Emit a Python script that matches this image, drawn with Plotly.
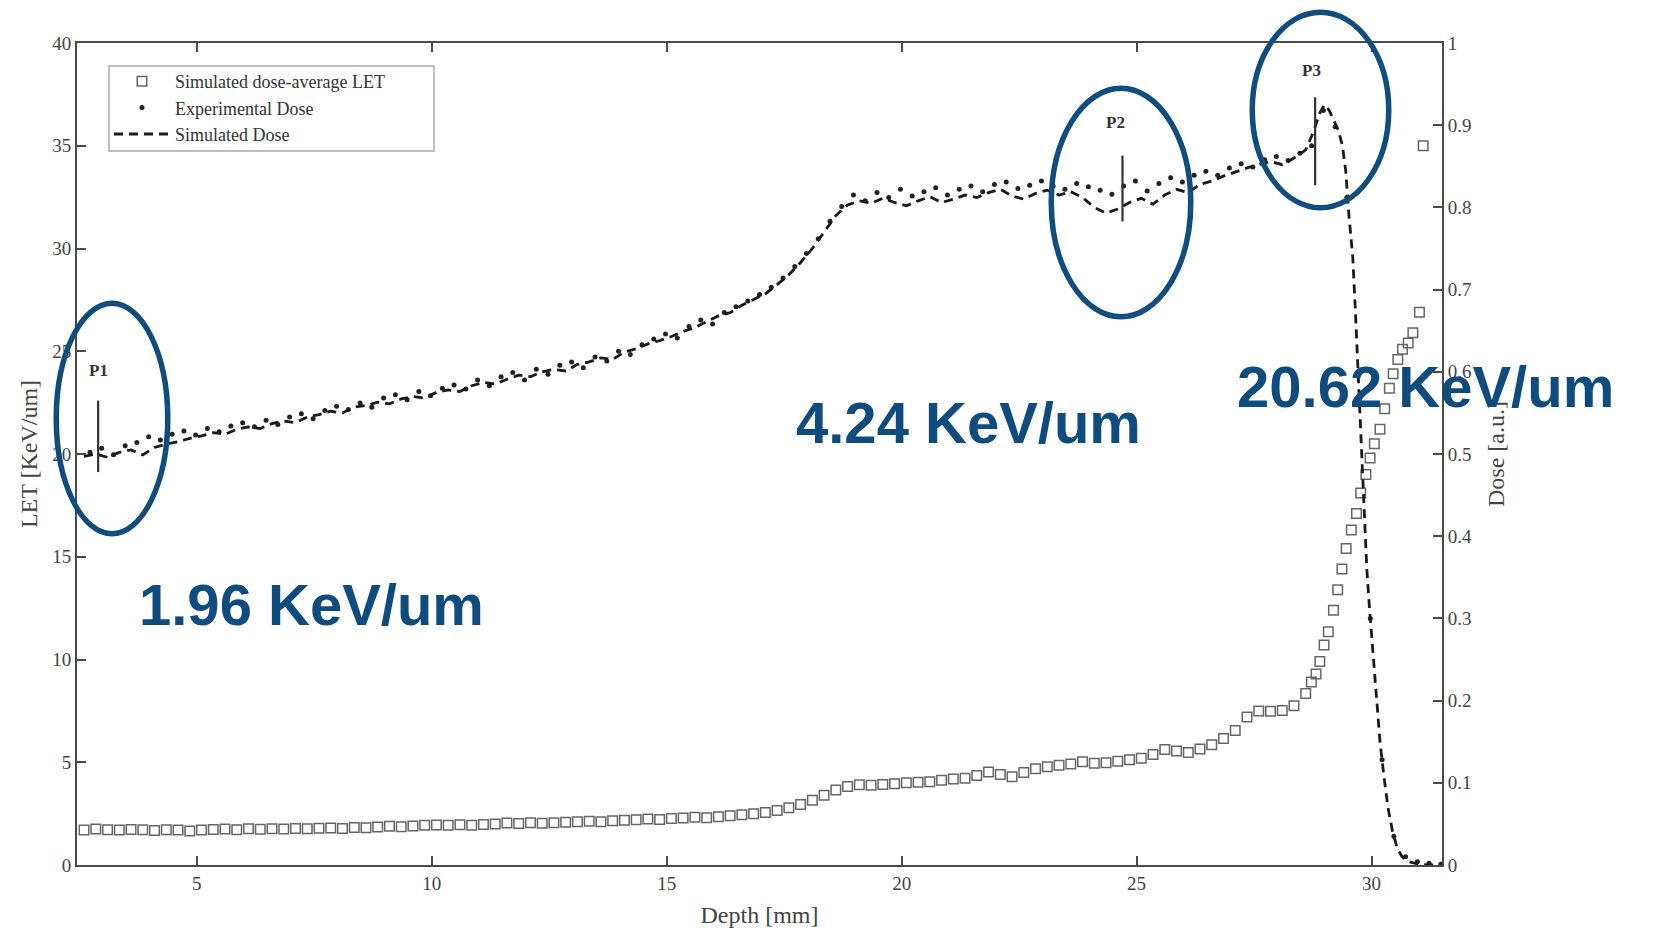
import plotly.graph_objects as go

# ---- data ----
STEP = 0.25  # mm, sampling grid of the regular parts

# simulated dose (dashed), 0.25 mm grid starting at 2.6 mm
sim_dose_start = 2.6
sim_dose = [
    0.497, 0.500, 0.496, 0.502, 0.505, 0.499, 0.508, 0.512, 0.515, 0.519,
    0.522, 0.526, 0.524, 0.530, 0.533, 0.531, 0.537, 0.540, 0.538, 0.545,
    0.548, 0.552, 0.550, 0.557, 0.559, 0.563, 0.561, 0.567, 0.570, 0.568,
    0.575, 0.578, 0.576, 0.583, 0.587, 0.585, 0.591, 0.596, 0.594, 0.600,
    0.603, 0.601, 0.609, 0.612, 0.617, 0.615, 0.624, 0.628, 0.634, 0.638,
    0.643, 0.649, 0.654, 0.661, 0.668, 0.672, 0.681, 0.688, 0.695, 0.706,
    0.718, 0.733, 0.750, 0.770, 0.790, 0.803, 0.808, 0.805, 0.811, 0.806,
    0.802, 0.808, 0.813, 0.806, 0.810, 0.815, 0.812, 0.818, 0.822, 0.814,
    0.810, 0.817, 0.821, 0.815, 0.819, 0.812, 0.800, 0.793, 0.798, 0.806,
    0.811, 0.804, 0.815, 0.822, 0.818, 0.828, 0.832, 0.838, 0.843, 0.848,
    0.852, 0.856, 0.852, 0.860, 0.870,
]
# Bragg peak and distal fall-off of the simulated dose
sim_tail_depth = [28.75, 28.90, 29.00, 29.10, 29.20, 29.30, 29.38, 29.45, 29.52, 29.60,
                  29.66, 29.72, 29.78, 29.84, 29.90, 29.96, 30.02, 30.10, 30.18, 30.26,
                  30.35, 30.45, 30.55, 30.65, 30.80, 31.00, 31.20, 31.45]
sim_tail_dose = [0.890, 0.915, 0.925, 0.918, 0.905, 0.893, 0.875, 0.845, 0.790, 0.740,
                 0.670, 0.590, 0.500, 0.420, 0.360, 0.310, 0.265, 0.205, 0.150, 0.110,
                 0.070, 0.040, 0.020, 0.010, 0.004, 0.001, 0.000, 0.000]

# experimental dose (dots), 0.25 mm grid starting at 2.725 mm
exp_dose_start = 2.725
exp_dose = [
    0.502, 0.507, 0.499, 0.510, 0.514, 0.521, 0.517, 0.524, 0.528, 0.523,
    0.531, 0.527, 0.534, 0.538, 0.533, 0.541, 0.536, 0.545, 0.549, 0.543,
    0.553, 0.558, 0.554, 0.562, 0.557, 0.568, 0.572, 0.566, 0.576, 0.571,
    0.580, 0.584, 0.579, 0.590, 0.583, 0.594, 0.599, 0.590, 0.603, 0.597,
    0.608, 0.612, 0.605, 0.618, 0.613, 0.625, 0.621, 0.633, 0.640, 0.646,
    0.641, 0.655, 0.663, 0.658, 0.672, 0.679, 0.686, 0.694, 0.703, 0.714,
    0.728, 0.744, 0.762, 0.783, 0.801, 0.815, 0.808, 0.818, 0.812, 0.822,
    0.814, 0.819, 0.824, 0.815, 0.822, 0.826, 0.819, 0.828, 0.831, 0.823,
    0.827, 0.832, 0.826, 0.822, 0.829, 0.825, 0.821, 0.816, 0.826, 0.832,
    0.820, 0.829, 0.836, 0.831, 0.839, 0.844, 0.839, 0.848, 0.853, 0.849,
    0.858, 0.862, 0.857, 0.866, 0.875, 0.918, 0.898, 0.812, 0.560, 0.300,
    0.128, 0.035, 0.010, 0.004, 0.002, 0.001,
]

# simulated dose-average LET (squares), 0.25 mm grid starting at 2.6 mm
let_start = 2.6
let_vals = [
    1.70, 1.75, 1.72, 1.70, 1.73, 1.71, 1.68, 1.72, 1.70, 1.66,
    1.70, 1.73, 1.75, 1.72, 1.76, 1.74, 1.77, 1.75, 1.78, 1.76,
    1.79, 1.80, 1.78, 1.83, 1.81, 1.85, 1.88, 1.86, 1.90, 1.93,
    1.95, 1.93, 1.96, 1.94, 1.97, 2.00, 2.04, 2.02, 2.06, 2.03,
    2.05, 2.08, 2.10, 2.13, 2.11, 2.15, 2.18, 2.20, 2.24, 2.22,
    2.26, 2.29, 2.32, 2.30, 2.35, 2.40, 2.45, 2.50, 2.56, 2.65,
    2.78, 2.95, 3.15, 3.40, 3.65, 3.82, 3.90, 3.88, 3.92, 3.95,
    4.00, 4.03, 4.05, 4.12, 4.18, 4.22, 4.35, 4.52, 4.40, 4.30,
    4.50, 4.68, 4.78, 4.85, 4.92, 5.02, 4.95, 4.98, 5.05, 5.12,
    5.20, 5.38, 5.62, 5.55, 5.48, 5.65, 5.85, 6.15, 6.55, 7.20,
    7.50, 7.48, 7.52, 7.75, 8.35,
]
let_tail_depth = [28.72, 28.82, 28.90, 28.99, 29.08, 29.19, 29.28, 29.37, 29.46, 29.57,
                  29.68, 29.77, 29.88, 29.97, 30.06, 30.18, 30.28, 30.38, 30.46, 30.56,
                  30.66, 30.78, 30.88, 31.02, 31.10]
let_tail = [8.9, 9.3, 9.9, 10.7, 11.35, 12.4, 13.4, 14.4, 15.4, 16.3,
            17.1, 18.1, 19.0, 19.8, 20.5, 21.2, 22.2, 23.2, 23.9, 24.6,
            25.1, 25.4, 25.9, 26.9, 35.0]

# measurement points P1..P3: depth and dose span of the marker bars
p_names = ["P1", "P2", "P3"]
p_depth = [2.9, 24.7, 28.8]
p_dose_lo = [0.478, 0.783, 0.827]
p_dose_hi = [0.565, 0.863, 0.934]
p_let_text = ["1.96 KeV/um", "4.24 KeV/um", "20.62 KeV/um"]


def grid(start, n):
    return [round(start + STEP * i, 3) for i in range(n)]


sim_x = grid(sim_dose_start, len(sim_dose)) + sim_tail_depth
sim_y = sim_dose + sim_tail_dose
exp_x = grid(exp_dose_start, len(exp_dose))
let_x = grid(let_start, len(let_vals)) + let_tail_depth
let_y = let_vals + let_tail

# ---- layout geometry ----
# the page body keeps an 8px margin, so the figure is drawn 8px in from the corner;
# positions below are page pixels and get shifted back by OFF
OFF = 8
W, H = 1654 - 2 * OFF, 943 - 2 * OFF
L, R, T, B = 77 - OFF, 1442 - OFF, 43 - OFF, 865 - OFF
BLUE = "#0e4c80"
SERIF = "Liberation Serif, Times New Roman, serif"
AX = "#4a4a4a"


def px(x):
    return (x - OFF - L) / (R - L)


def py(y):
    return (B - (y - OFF)) / (B - T)


fig = go.Figure()

fig.add_trace(go.Scatter(
    x=let_x, y=let_y, mode="markers", name="Simulated dose-average LET",
    marker=dict(symbol="square-open", size=9.5, color="#666666", line=dict(width=1.5)),
    yaxis="y",
))
fig.add_trace(go.Scatter(
    x=exp_x, y=exp_dose, mode="markers", name="Experimental Dose",
    marker=dict(symbol="circle", size=5, color="#222222"),
    yaxis="y2",
))
fig.add_trace(go.Scatter(
    x=sim_x, y=sim_y, mode="lines", name="Simulated Dose",
    line=dict(color="#1a1a1a", width=2.8, dash="9px,6px"),
    yaxis="y2",
))

shapes = []
# legend frame (MATLAB style box, wider than the text)
shapes.append(dict(type="rect", xref="paper", yref="paper", layer="above",
                   x0=px(109), x1=px(434), y0=py(66), y1=py(151),
                   fillcolor="white", line=dict(color="#aaaaaa", width=1.5)))

# vertical bars at P1..P3
for d, lo, hi in zip(p_depth, p_dose_lo, p_dose_hi):
    shapes.append(dict(type="line", xref="x", yref="y2", x0=d, x1=d, y0=lo, y1=hi,
                       line=dict(color="#333333", width=2.2)))

# hand drawn blue ellipses (page pixel boxes), two strokes each
ellipses = [(55, 302, 169, 535), (1050, 87, 1192, 318), (1251, 11, 1390, 209)]
for x0, y0, x1, y1 in ellipses:
    for o in (0, 2.5):
        shapes.append(dict(type="circle", xref="paper", yref="paper",
                           x0=px(x0 + o), x1=px(x1 - o), y0=py(y0 + o), y1=py(y1 - o),
                           line=dict(color=BLUE, width=3.0)))

annotations = []
label_pos = [(98, 371), (1115, 122), (1311, 70)]
for name, (lx, ly) in zip(p_names, label_pos):
    annotations.append(dict(xref="paper", yref="paper", x=px(lx), y=py(ly), text=f"<b>{name}</b>",
                            xanchor="center", yanchor="middle", showarrow=False,
                            font=dict(family=SERIF, size=17, color="#333333")))

text_pos = [(311, 604), (968, 422), (1425, 386)]
for txt, (tx, ty) in zip(p_let_text, text_pos):
    annotations.append(dict(xref="paper", yref="paper", x=px(tx), y=py(ty), text=f"<b>{txt}</b>",
                            xanchor="center", yanchor="middle", showarrow=False,
                            font=dict(family="Liberation Sans, Arial, sans-serif", size=58, color=BLUE)))

axis_common = dict(showgrid=False, zeroline=False, showline=True, linecolor=AX, linewidth=1.8,
                   ticks="inside", ticklen=9, tickwidth=1.5, tickcolor=AX, automargin=False,
                   tickfont=dict(family=SERIF, size=19, color="#444444"))
title_font = dict(family=SERIF, size=24, color="#444444")

fig.update_layout(
    width=W, height=H,
    margin=dict(l=L, r=W - R, t=T, b=H - B),
    paper_bgcolor="white", plot_bgcolor="white",
    xaxis=dict(range=[2.45, 31.5], tickvals=[5, 10, 15, 20, 25, 30], mirror="ticks",
               title=dict(text="Depth [mm]", font=title_font, standoff=13),
               **axis_common),
    yaxis=dict(range=[0, 40], dtick=5,
               title=dict(text="LET [KeV/um]", font=title_font, standoff=8),
               **axis_common),
    yaxis2=dict(range=[0, 1], dtick=0.1, overlaying="y", side="right",
                title=dict(text="Dose [a.u.]", font=title_font, standoff=16),
                **axis_common),
    legend=dict(x=px(109), y=py(63), xanchor="left", yanchor="top",
                bgcolor="rgba(0,0,0,0)", borderwidth=0,
                font=dict(family=SERIF, size=18, color="#333333"),
                tracegroupgap=0, itemwidth=56),
    shapes=shapes,
    annotations=annotations,
    showlegend=True,
)

fig.write_html("out.html")
